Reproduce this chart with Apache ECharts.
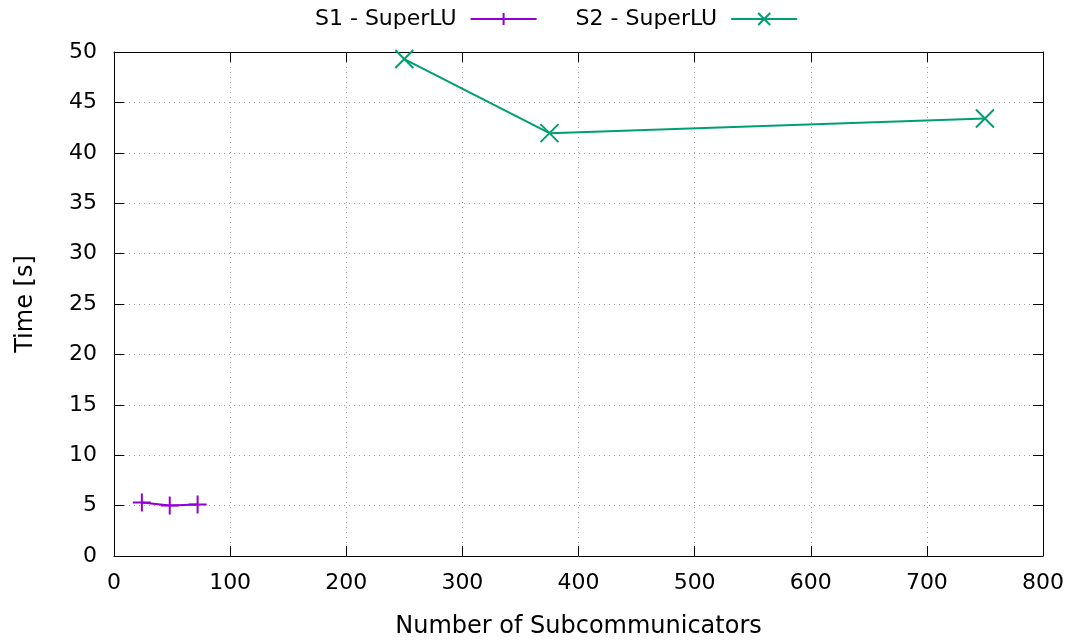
<!DOCTYPE html>
<html>
<head>
<meta charset="utf-8">
<script src="https://cdn.jsdelivr.net/npm/echarts@6/dist/echarts.min.js"></script>
<style>
  html, body { margin: 0; padding: 0; background: #fff; }
  #chart { width: 1080px; height: 644px; }
</style>
</head>
<body>
<div id="chart"></div>
<script>
// Solve time per number of subcommunicators
const s1Name = 'S1 - SuperLU';
const s1X = [24, 48, 72];
const s1Y = [5.3, 5.0, 5.1];

const s2Name = 'S2 - SuperLU';
const s2X = [250, 375, 750];
const s2Y = [49.3, 41.95, 43.4];

const xTicks = { min: 0, max: 800, interval: 100 };
const yTicks = { min: 0, max: 50, interval: 5 };

const FONT = 'DejaVu Sans';
const plusPath = 'path://M0,5L10,5M5,0L5,10';
const crossPath = 'path://M0,0L10,10M10,0L0,10';

const pairs = (xs, ys) => xs.map((x, i) => [x, ys[i]]);

const chart = echarts.init(document.getElementById('chart'), null, { renderer: 'canvas' });

const gridLine = { show: true, lineStyle: { color: '#a0a0a0', width: 1, type: [1, 4] } };
const tick = { show: true, inside: true, length: 10, lineStyle: { color: '#000', width: 1 } };
const axisLineStyle = { show: true, onZero: false, lineStyle: { color: '#000', width: 1 } };

chart.setOption({
  animation: false,
  textStyle: { fontFamily: FONT },
  grid: { left: 114, right: 37, top: 52, bottom: 87, containLabel: false },
  legend: {
    top: 3,
    left: 310,
    align: 'right',
    itemWidth: 66,
    itemHeight: 15,
    itemGap: 38,
    formatter: '{t|{name}}',
    textStyle: {
      fontFamily: FONT, fontSize: 22, color: '#000',
      rich: { t: { fontFamily: FONT, fontSize: 22, color: '#000', padding: [0, 9, 0, 0] } }
    },
    data: [s1Name, s2Name]
  },
  xAxis: [{
    type: 'value', min: xTicks.min, max: xTicks.max, interval: xTicks.interval,
    position: 'bottom',
    name: 'Number of Subcommunicators', nameLocation: 'middle', nameGap: 59,
    nameTextStyle: { fontFamily: FONT, fontSize: 24, color: '#000' },
    axisLine: axisLineStyle, axisTick: tick, splitLine: gridLine,
    axisLabel: { fontFamily: FONT, fontSize: 22, color: '#000', margin: 16 }
  }, {
    type: 'value', min: xTicks.min, max: xTicks.max, interval: xTicks.interval,
    position: 'top',
    axisLine: axisLineStyle, axisTick: tick, splitLine: { show: false },
    axisLabel: { show: false }
  }],
  yAxis: [{
    type: 'value', min: yTicks.min, max: yTicks.max, interval: yTicks.interval,
    position: 'left',
    name: 'Time [s]', nameLocation: 'middle', nameGap: 76, nameRotate: 90,
    nameTextStyle: { fontFamily: FONT, fontSize: 24, color: '#000' },
    axisLine: axisLineStyle, axisTick: tick, splitLine: gridLine,
    axisLabel: { fontFamily: FONT, fontSize: 22, color: '#000', margin: 17 }
  }, {
    type: 'value', min: yTicks.min, max: yTicks.max, interval: yTicks.interval,
    position: 'right',
    axisLine: axisLineStyle, axisTick: tick, splitLine: { show: false },
    axisLabel: { show: false }
  }],
  series: [{
    name: s1Name, type: 'line',
    data: pairs(s1X, s1Y),
    symbol: plusPath, symbolSize: 18,
    lineStyle: { color: '#9400d3', width: 2 },
    itemStyle: { color: '#9400d3', borderColor: '#9400d3', borderWidth: 2 }
  }, {
    name: s2Name, type: 'line',
    data: pairs(s2X, s2Y),
    symbol: crossPath, symbolSize: 18,
    lineStyle: { color: '#009e73', width: 2 },
    itemStyle: { color: '#009e73', borderColor: '#009e73', borderWidth: 2 }
  }]
});
</script>
</body>
</html>
